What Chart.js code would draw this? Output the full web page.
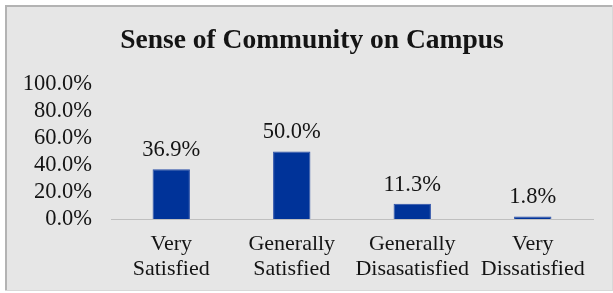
<!DOCTYPE html>
<html>
<head>
<meta charset="utf-8">
<script src="https://cdn.jsdelivr.net/npm/chart.js@4/dist/chart.umd.min.js"></script>
<style>
  html, body { margin: 0; padding: 0; background: #ffffff; }
  #wrap { position: absolute; left: 0; top: 0; width: 613px; height: 293px; }
</style>
</head>
<body>
<div id="wrap"><canvas id="c" width="613" height="293"></canvas></div>
<script>
const titleText = "Sense of Community on Campus";
const categories = [["Very", "Satisfied"], ["Generally", "Satisfied"], ["Generally", "Disasatisfied"], ["Very", "Dissatisfied"]];
const values = [36.9, 50.0, 11.3, 1.8];
const yMax = 100;
const yStep = 20;

const FONT = "'Liberation Serif', 'Times New Roman', serif";
const TEXT = "#141414";

const panelPlugin = {
  id: 'panel',
  beforeDraw(chart) {
    const ctx = chart.ctx;
    ctx.save();
    ctx.fillStyle = '#ffffff';
    ctx.fillRect(0, 0, chart.width, chart.height);
    ctx.fillStyle = '#e6e6e6';
    ctx.fillRect(5, 5, 608, 286);
    ctx.fillStyle = '#b3b3b3';
    ctx.fillRect(5, 5, 608, 2);
    ctx.fillRect(5, 5, 2, 286);
    ctx.fillStyle = '#d8d8d8';
    ctx.fillRect(5, 290, 608, 1);
    ctx.fillRect(612, 5, 1, 286);
    ctx.restore();
  },
  afterDraw(chart) {
    const ctx = chart.ctx;
    ctx.save();
    ctx.fillStyle = TEXT;
    ctx.font = "bold 27.5px " + FONT;
    ctx.textAlign = 'center';
    ctx.textBaseline = 'middle';
    ctx.fillText(titleText, 312, 41);
    ctx.restore();
  }
};

const labelPlugin = {
  id: 'barLabels',
  afterDatasetsDraw(chart) {
    const ctx = chart.ctx;
    const meta = chart.getDatasetMeta(0);
    ctx.save();
    ctx.fillStyle = TEXT;
    ctx.font = "22.5px " + FONT;
    ctx.textAlign = 'center';
    ctx.textBaseline = 'middle';
    meta.data.forEach((bar, i) => {
      ctx.fillText(values[i].toFixed(1) + '%', bar.x, bar.y - 19);
    });
    ctx.restore();
  }
};

new Chart(document.getElementById('c'), {
  type: 'bar',
  data: {
    labels: categories,
    datasets: [{
      data: values,
      backgroundColor: '#003399',
      borderColor: '#2a4fa8',
      borderWidth: 1,
      categoryPercentage: 1.0,
      barPercentage: 0.31
    }]
  },
  options: {
    responsive: false,
    animation: false,
    devicePixelRatio: 1,
    layout: { padding: { left: 0, right: 20, top: 84, bottom: 0 } },
    plugins: {
      legend: { display: false },
      title: { display: false },
      tooltip: { enabled: false }
    },
    scales: {
      x: {
        grid: { display: false, drawTicks: false },
        border: { display: true, color: '#bfbfbf', width: 1 },
        ticks: {
          color: TEXT,
          font: { family: FONT, size: 22, lineHeight: 1.14 },
          padding: 13,
          maxRotation: 0,
          autoSkip: false
        },
        afterFit(scale) { scale.height = 74; }
      },
      y: {
        min: 0,
        max: yMax,
        grid: { display: false, drawTicks: false },
        border: { display: false },
        ticks: {
          stepSize: yStep,
          autoSkip: false,
          color: TEXT,
          font: { family: FONT, size: 22.5 },
          padding: 19,
          callback: (v) => Number(v).toFixed(1) + '%'
        },
        afterFit(scale) { scale.width = 111; }
      }
    }
  },
  plugins: [panelPlugin, labelPlugin]
});
</script>
</body>
</html>
